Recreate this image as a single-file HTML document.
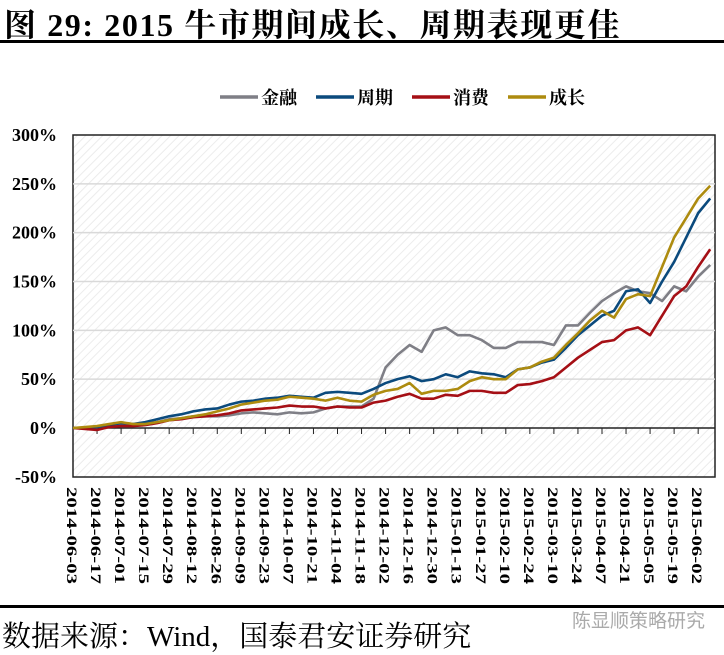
<!DOCTYPE html>
<html><head><meta charset="utf-8">
<style>
body{margin:0;background:#fff;width:724px;height:654px;overflow:hidden;font-family:"Liberation Serif","Noto Serif CJK SC",serif;}
#title{position:absolute;left:4px;top:0px;font-size:32px;font-weight:bold;color:#000;letter-spacing:1.6px;white-space:nowrap;}
#rule-top{position:absolute;left:0;top:40px;width:724px;height:3px;background:#000;}
#rule-bot{position:absolute;left:0;top:605px;width:724px;height:3px;background:#000;}
#source{position:absolute;left:2px;top:614px;font-size:29px;color:#000;white-space:nowrap;}
#wm{position:absolute;left:572px;top:606px;font-size:19px;color:#aaa;white-space:nowrap;font-family:"Liberation Sans","Noto Sans CJK SC",sans-serif;}
svg{position:absolute;left:0;top:0;}
</style></head><body>
<div id="title">图 29: 2015 牛市期间成长、周期表现更佳</div>
<div id="rule-top"></div>
<svg id="chart" width="724" height="654"></svg>
<div id="rule-bot"></div>
<div id="source">数据来源：Wind，国泰君安证券研究</div>
<div id="wm">陈显顺策略研究</div>
<script>
const dateLabels=["2014-06-03","2014-06-17","2014-07-01","2014-07-15","2014-07-29","2014-08-12","2014-08-26","2014-09-09","2014-09-23","2014-10-07","2014-10-21","2014-11-04","2014-11-18","2014-12-02","2014-12-16","2014-12-30","2015-01-13","2015-01-27","2015-02-10","2015-02-24","2015-03-10","2015-03-24","2015-04-07","2015-04-21","2015-05-05","2015-05-19","2015-06-02"];
const yTicks=[-50,0,50,100,150,200,250,300];
const seriesNames=["金融","周期","消费","成长"];
const finance=[0,0,1,3,3,2,4,6,9,10,12,12,12,13,15,16,15,14,16,15,16,20,22,22,22,30,62,75,85,78,100,103,95,95,90,82,82,88,88,88,85,105,105,118,130,138,145,140,138,130,145,140,155,167];
const cyclical=[0,0,1,3,5,4,6,9,12,14,17,19,20,24,27,28,30,31,33,32,31,36,37,36,35,40,46,50,53,48,50,55,52,58,56,55,52,60,62,67,70,82,95,105,115,120,140,142,128,150,170,195,220,235];
const consumer=[0,-1,-2,1,2,2,3,5,8,9,11,12,13,15,18,19,20,21,23,22,22,20,22,21,21,26,28,32,35,30,30,34,33,38,38,36,36,44,45,48,52,62,72,80,88,90,100,103,95,115,135,145,165,183];
const growth=[0,1,2,4,6,4,4,6,8,10,12,14,17,20,24,26,28,29,32,31,30,28,31,28,27,34,38,40,46,35,38,38,40,48,52,50,50,60,62,68,72,85,97,110,120,113,132,137,135,165,195,215,235,248];
const colors=["#7f7f86","#0b4a7d","#a50f15","#ad8b0f"];

const NS="http://www.w3.org/2000/svg";
const svg=document.getElementById('chart');
const L=73,R=715,T=135,B=477;
const xs=i=>L+i*(R-L)/53.4;
const ys=v=>428-(v)*(428-135)/300;
function mk(tag,attrs){const e=document.createElementNS(NS,tag);for(const k in attrs)e.setAttribute(k,attrs[k]);svg.appendChild(e);return e;}
const defs=mk('defs',{});
defs.innerHTML='<pattern id="hatch" width="6" height="6" patternUnits="userSpaceOnUse" patternTransform="rotate(45)"><rect width="6" height="6" fill="#fff"/><line x1="0" y1="0" x2="0" y2="6" stroke="#ececec" stroke-width="2"/></pattern>';
const bg=mk('rect',{x:L,y:T,width:R-L,height:B-T,fill:'url(#hatch)',stroke:'#222','stroke-width':1.5});


yTicks.forEach(v=>{
  if(v!==300&&v!==-50&&v!==0){const g=mk('line',{x1:L,x2:R,y1:ys(v),y2:ys(v),stroke:'#d9d9d9','stroke-width':1.5});
  
  }
  const t=mk('text',{x:L-16,y:ys(v)+6,'text-anchor':'end','font-size':18,'font-weight':'bold','font-family':'Liberation Serif, serif'});
  t.textContent=v+'%';
  
  
});
const z=mk('line',{x1:L,x2:R,y1:ys(0),y2:ys(0),stroke:'#222','stroke-width':1.5});


dateLabels.forEach((d,k)=>{
  const x=xs(k*2);
  const tk=mk('line',{x1:x,x2:x,y1:ys(0),y2:ys(0)+6,stroke:'#222','stroke-width':1});
  
  
  const t=mk('text',{x:0,y:0,transform:`translate(${x-6},${B+10}) rotate(90)`,'font-size':15,'font-weight':'bold','font-family':'Liberation Serif, serif',textLength:97,lengthAdjust:'spacingAndGlyphs'});
  t.textContent=d;
  
  
});
[finance,cyclical,consumer,growth].forEach((s,si)=>{
  const p=mk('polyline',{points:s.map((v,i)=>xs(i)+','+ys(v)).join(' '),fill:'none',stroke:colors[si],'stroke-width':2.6,'stroke-linejoin':'round'});
  
  
});
const lx=[220,316,412,508];
seriesNames.forEach((n,i)=>{
  const l=mk('line',{x1:lx[i],x2:lx[i]+38,y1:97,y2:97,stroke:colors[i],'stroke-width':3.5});
  
  
  const t=mk('text',{x:lx[i]+41,y:104,'font-size':18,'font-weight':'bold','font-family':'Liberation Serif, Noto Serif CJK SC, serif'});
  t.textContent=n;
  
  
});
</script>
</body></html>
